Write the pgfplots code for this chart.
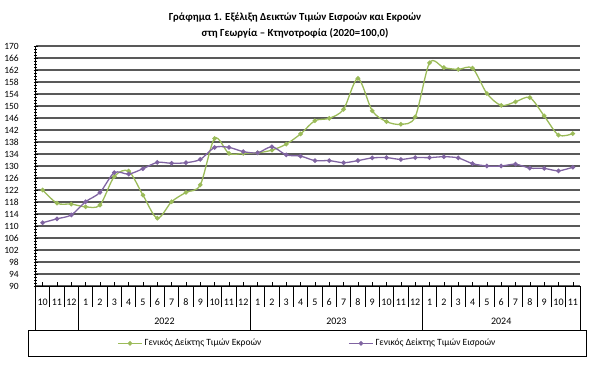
\documentclass[border=0pt]{standalone}
\usepackage{pgfplots}
\pgfplotsset{compat=1.18}
\usepackage{fontspec}
\setmainfont{Carlito}
\definecolor{cgreen}{HTML}{9BBB59}
\definecolor{cpurple}{HTML}{8064A2}
\begin{document}
\begin{tikzpicture}
\useasboundingbox (0,0) rectangle (600pt,-376pt);
\node[font=\bfseries\fontsize{10.8}{12}\selectfont, inner sep=0pt] at (295pt,-17pt) {Γράφημα 1. Εξέλιξη Δεικτών Τιμών Εισροών και Εκροών};
\node[font=\bfseries\fontsize{10.8}{12}\selectfont, inner sep=0pt] at (295pt,-33pt) {στη Γεωργία – Κτηνοτροφία (2020=100,0)};
\begin{axis}[
  scale only axis, width=544.5pt, height=240pt,
  at={(35.5pt,-286pt)}, anchor=south west,
  xmin=-0.5, xmax=37.5, ymin=90, ymax=170,
  axis x line*=bottom, axis y line*=left,
  axis line style={black, line width=0.8pt},
  clip=false,
  /pgf/number format/assume math mode=true,
  ytick={90,94,...,170},
  minor y tick num=3,
  tick align=center,
  major tick length=4pt, minor tick length=3pt,
  tick style={black, line width=0.6pt},
  xtick={0,...,37},
  xticklabels={10,11,12,1,2,3,4,5,6,7,8,9,10,11,12,1,2,3,4,5,6,7,8,9,10,11,12,1,2,3,4,5,6,7,8,9,10,11},
  x tick style={yshift=2pt},
  xticklabel style={anchor=center, yshift=-14pt, font=\fontsize{10}{12}\selectfont},
  yticklabel style={anchor=east, inner sep=0pt, xshift=-14.5pt, font=\fontsize{9.5}{11}\selectfont},
  ymajorgrids,
  major grid style={black!65, line width=1.1pt},
  legend columns=2,
  legend style={draw=none, fill=none, at={(0.4995,-0.239)}, anchor=center,
    font=\fontsize{9.5}{11}\selectfont,
    /tikz/every even column/.append style={column sep=85pt}},
  legend image code/.code={\draw[#1, mark repeat=2, mark phase=2] plot coordinates {(0cm,0cm) (0.42cm,0cm) (0.84cm,0cm)};},
]
\addplot[cgreen, line width=1.3pt, smooth, tension=0.5, mark=*, mark size=1.6pt, mark options={fill=cgreen, draw=cgreen}] coordinates {
(0,122.0) (1,117.6) (2,117.3) (3,116.4) (4,117.0) (5,126.5) (6,128.3) (7,120.3) (8,112.6) (9,118.1) (10,121.2) (11,123.7)
(12,139.2) (13,134.2) (14,134.2) (15,134.4) (16,135.3) (17,137.3) (18,140.7) (19,145.1) (20,145.9) (21,148.9) (22,159.2) (23,148.4)
(24,144.8) (25,143.9) (26,146.4) (27,164.4) (28,162.8) (29,162.2) (30,162.6) (31,154.2) (32,150.2) (33,151.4) (34,152.8) (35,146.7)
(36,140.3) (37,140.8)};
\addlegendentry{Γενικός Δείκτης Τιμών Εκροών}
\addplot[cpurple, line width=1.3pt, smooth, tension=0.5, mark=*, mark size=1.6pt, mark options={fill=cpurple, draw=cpurple}] coordinates {
(0,111.1) (1,112.4) (2,113.7) (3,118.1) (4,121.2) (5,127.8) (6,127.3) (7,129.1) (8,131.2) (9,130.9) (10,131.1) (11,132.2)
(12,136.2) (13,136.2) (14,134.8) (15,134.4) (16,136.4) (17,133.7) (18,133.3) (19,131.8) (20,131.8) (21,131.1) (22,131.8) (23,132.7)
(24,132.8) (25,132.2) (26,132.8) (27,132.8) (28,133.1) (29,132.7) (30,130.8) (31,130.0) (32,130.0) (33,130.6) (34,129.3) (35,129.2)
(36,128.4) (37,129.6)};
\addlegendentry{Γενικός Δείκτης Τιμών Εισροών}
\pgfplotsinvokeforeach{0.5,1.5,...,36.5}{\draw[black, line width=0.8pt] (axis cs:#1,90) -- (axis cs:#1,83.1);}
\pgfplotsinvokeforeach{-0.5,2.5,14.5,26.5,37.5}{\draw[black, line width=0.8pt] (axis cs:#1,90) -- (axis cs:#1,75.1);}
\node[font=\fontsize{10}{12}\selectfont] at (axis cs:8.5,78.1) {2022};
\node[font=\fontsize{10}{12}\selectfont] at (axis cs:20.5,78.1) {2023};
\node[font=\fontsize{10}{12}\selectfont] at (axis cs:32,78.1) {2024};
\draw[black, line width=0.8pt] (axis cs:-1.0,75.1) rectangle (axis cs:37.96,66.67);
\end{axis}
\end{tikzpicture}
\end{document}
